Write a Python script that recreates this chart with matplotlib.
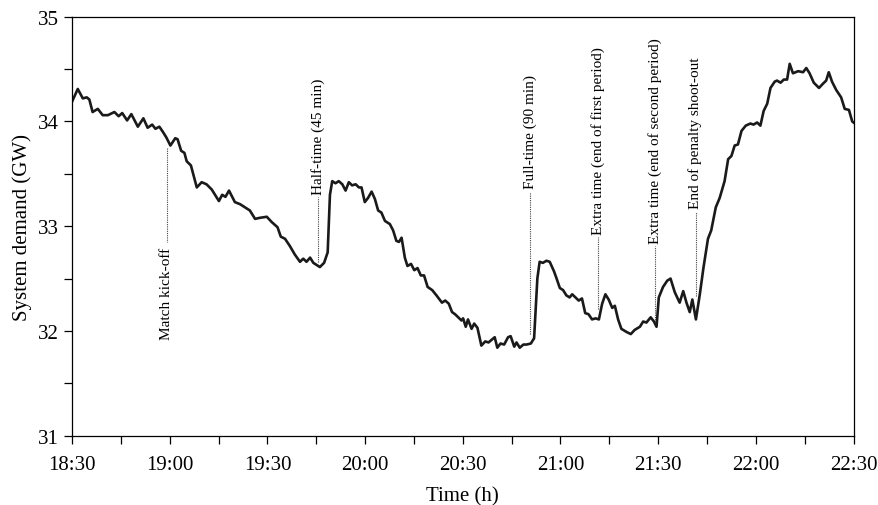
import datetime
import matplotlib
matplotlib.use("Agg")
import matplotlib.pyplot as plt
import matplotlib.dates as mdates

# minutes after 18:30 and system demand (GW)
minutes = [0.0, 1.75, 3.3, 4.5, 5.3, 6.3, 7.9, 9.4, 11.0, 13.0, 14.3, 15.4, 16.9, 18.2,
           20.2, 21.9, 23.2, 24.6, 25.6, 26.8, 27.9, 28.9, 30.2, 31.7, 32.4, 33.5,
           34.5, 35.2, 36.5, 38.3, 39.8, 41.3, 42.9, 43.9, 45.1, 46.1, 47.1, 48.2,
           50.0, 51.6, 53.1, 54.6, 56.2, 57.7, 59.8, 61.3, 63.1, 64.1, 65.4, 66.9,
           68.4, 70.0, 71.0, 72.0, 73.1, 74.1, 75.1, 76.1, 77.4, 78.5, 79.2, 79.9,
           80.9, 81.9, 83.0, 84.0, 85.0, 86.0, 87.1, 88.1, 88.9, 89.9, 90.9, 92.0,
           93.0, 94.0, 95.0, 96.1, 97.6, 98.6, 99.6, 100.4, 101.2, 102.2, 103.0,
           104.1, 105.1, 106.1, 107.1, 108.1, 109.2, 110.6, 111.9, 113.6, 114.6,
           115.7, 116.7, 117.6, 118.6, 119.6, 120.1, 120.9, 121.6, 122.7, 123.5,
           124.5, 125.7, 126.9, 127.9, 129.8, 130.6, 131.6, 132.7, 133.9, 134.7,
           135.8, 136.5, 137.5, 138.6, 139.6, 140.9, 141.9, 142.9, 143.6, 144.6,
           145.7, 146.7, 148.0, 148.7, 149.8, 150.8, 151.8, 152.8, 153.6, 154.6,
           155.6, 156.6, 157.6, 158.6, 159.7, 160.8, 161.8, 162.8, 163.8, 164.8,
           165.9, 166.7, 167.7, 168.7, 170.3, 171.6, 172.8, 174.4, 175.4, 176.4,
           177.7, 178.7, 179.5, 180.2, 181.5, 182.8, 183.8, 185.1, 186.6, 187.7,
           188.7, 189.7, 190.5, 191.6, 192.8, 193.9, 195.3, 196.3, 197.7, 198.9,
           200.4, 201.5, 202.5, 203.5, 204.5, 205.6, 206.9, 208.3, 209.3, 210.4,
           211.4, 212.4, 213.5, 214.5, 215.8, 216.5, 217.6, 218.6, 219.6, 220.4,
           221.4, 223.0, 224.5, 225.5, 226.5, 227.8, 229.4, 230.6, 231.6, 232.4,
           233.4, 234.7, 236.2, 237.3, 238.6, 239.6, 240.0]
demand_gw = [34.19, 34.31, 34.22, 34.23, 34.21, 34.09, 34.12, 34.06, 34.06, 34.09, 34.05,
             34.08, 34.01, 34.07, 33.95, 34.03, 33.94, 33.97, 33.93, 33.95, 33.90, 33.85,
             33.77, 33.84, 33.83, 33.72, 33.70, 33.62, 33.58, 33.37, 33.42, 33.40, 33.35,
             33.30, 33.24, 33.30, 33.28, 33.34, 33.23, 33.21, 33.18, 33.15, 33.07, 33.08,
             33.09, 33.04, 32.99, 32.90, 32.88, 32.81, 32.73, 32.66, 32.69, 32.66, 32.70,
             32.65, 32.63, 32.61, 32.65, 32.75, 33.30, 33.43, 33.41, 33.43, 33.40, 33.34,
             33.42, 33.39, 33.40, 33.37, 33.37, 33.23, 33.27, 33.33, 33.26, 33.15, 33.13,
             33.05, 33.02, 32.96, 32.86, 32.85, 32.89, 32.70, 32.62, 32.64, 32.58, 32.60,
             32.53, 32.53, 32.42, 32.39, 32.34, 32.27, 32.29, 32.26, 32.18, 32.16, 32.13,
             32.10, 32.12, 32.04, 32.11, 32.02, 32.07, 32.03, 31.86, 31.90, 31.89, 31.94,
             31.84, 31.88, 31.87, 31.94, 31.95, 31.85, 31.89, 31.84, 31.87, 31.87, 31.88,
             31.93, 32.50, 32.66, 32.65, 32.67, 32.66, 32.57, 32.51, 32.41, 32.39, 32.34,
             32.32, 32.35, 32.32, 32.29, 32.31, 32.17, 32.16, 32.11, 32.12, 32.11, 32.26,
             32.35, 32.30, 32.22, 32.24, 32.11, 32.02, 31.99, 31.97, 32.01, 32.04, 32.09,
             32.08, 32.13, 32.09, 32.04, 32.32, 32.42, 32.48, 32.50, 32.37, 32.27, 32.38,
             32.27, 32.18, 32.30, 32.11, 32.35, 32.60, 32.88, 32.96, 33.18, 33.27, 33.43,
             33.64, 33.67, 33.77, 33.78, 33.91, 33.96, 33.98, 33.97, 33.99, 33.96, 34.10,
             34.17, 34.32, 34.38, 34.39, 34.37, 34.40, 34.40, 34.55, 34.46, 34.48, 34.47,
             34.51, 34.46, 34.37, 34.32, 34.36, 34.39, 34.47, 34.38, 34.30, 34.23, 34.12,
             34.11, 34.00, 33.99]

# match events: minutes after 18:30, label, where the dotted line starts/ends
event_minutes = [29.0, 75.6, 140.7, 161.6, 179.1, 191.5]
event_labels = ["Match kick-off", "Half-time (45 min)", "Full-time (90 min)",
                "Extra time (end of first period)", "Extra time (end of second period)",
                "End of penalty shoot-out"]
event_line_from = [33.75, 32.66, 31.97, 32.21, 32.09, 32.33]
event_line_to = [32.85, 33.28, 33.33, 32.90, 32.81, 33.14]

start = datetime.datetime(2018, 7, 3, 18, 30)
times = [start + datetime.timedelta(minutes=m) for m in minutes]
ev_times = [start + datetime.timedelta(minutes=m) for m in event_minutes]

plt.rcParams['font.family'] = ['Liberation Serif', 'DejaVu Serif']

fig = plt.figure(figsize=(8.79, 5.06), dpi=100)
ax = fig.add_axes([0.082, 0.137, 0.889, 0.828])

ax.plot(times, demand_gw, color="#1a1a1a", lw=1.9, solid_joinstyle="round")

for t, lab, y0, y1 in zip(ev_times, event_labels, event_line_from, event_line_to):
    ax.plot([t, t], [y0, y1], color="#444444", lw=0.8, ls=(0, (1, 1)))
    if y1 < y0:
        ax.text(t, y1 - 0.05, lab, rotation=90, ha="center", va="top", fontsize=11)
    else:
        ax.text(t, y1 + 0.03, lab, rotation=90, ha="center", va="bottom", fontsize=11)

ax.set_xlim(start, start + datetime.timedelta(minutes=240))
ax.set_ylim(31, 35)
ax.xaxis.set_major_locator(mdates.MinuteLocator(byminute=[0, 30]))
ax.xaxis.set_minor_locator(mdates.MinuteLocator(byminute=[15, 45]))
ax.xaxis.set_major_formatter(mdates.DateFormatter("%H:%M"))
ax.set_yticks([31, 32, 33, 34, 35])
ax.set_yticks([31.5, 32.5, 33.5, 34.5], minor=True)

ax.tick_params(which="both", direction="out", length=6, width=0.9, labelsize=15)
ax.tick_params(axis="x", pad=8)
for s in ax.spines.values():
    s.set_linewidth(0.9)

ax.set_xlabel("Time (h)", fontsize=15, labelpad=9)
ax.set_ylabel("System demand (GW)", fontsize=15)

fig.savefig("out.png", dpi=100)
